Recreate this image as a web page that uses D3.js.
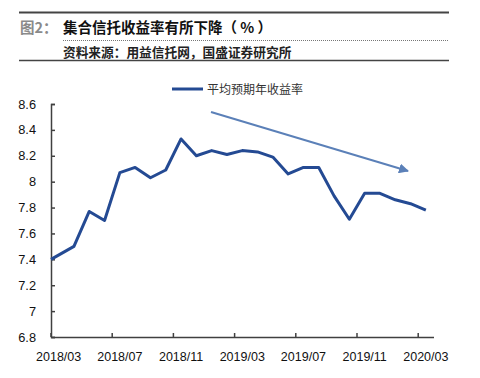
<!DOCTYPE html>
<html><head><meta charset="utf-8">
<script src="https://cdn.jsdelivr.net/npm/d3@7"></script>
<style>body{margin:0;background:#fff}svg{display:block}</style>
</head><body>
<svg id="c" width="480" height="378"></svg>
<script>
const months = ["2018/03","2018/04","2018/05","2018/06","2018/07","2018/08","2018/09","2018/10","2018/11","2018/12",
"2019/01","2019/02","2019/03","2019/04","2019/05","2019/06","2019/07","2019/08","2019/09","2019/10",
"2019/11","2019/12","2020/01","2020/02","2020/03"];
const yieldValues = [7.40,7.50,7.77,7.70,8.07,8.11,8.03,8.09,8.33,8.20,
8.24,8.21,8.24,8.23,8.19,8.06,8.11,8.11,7.89,7.71,
7.91,7.91,7.86,7.83,7.78];
const yTicks = [6.8,7,7.2,7.4,7.6,7.8,8,8.2,8.4,8.6];
const xTickLabels = ["2018/03","2018/07","2018/11","2019/03","2019/07","2019/11","2020/03"];
const seriesName = "平均预期年收益率";
const titlePrefix = "图2：";
const titleText = "集合信托收益率有所下降（ % ）";
const sourceText = "资料来源：用益信托网，国盛证券研究所";

const svg = d3.select("#c");
const L = 51, R = 433.5, T = 104, B = 337;
const x = d3.scaleBand().domain(months).range([L, R]).paddingInner(0).paddingOuter(0);
const y = d3.scaleLinear().domain([6.8, 8.6]).range([B, T]);
const axisColor = "#404040";
const font = "'Liberation Sans', Arial, sans-serif";

// header
svg.append("line").attr("x1",19).attr("x2",449).attr("y1",12.5).attr("y2",12.5).attr("stroke","#444").attr("stroke-width",2);
svg.append("text").attr("x",20).attr("y",33).attr("font-family","'Noto Sans CJK SC', sans-serif").attr("font-size",14.5).attr("font-weight","bold").attr("fill","#8a8a8a").text(titlePrefix);
svg.append("text").attr("x",63).attr("y",33).attr("font-family","'Noto Sans CJK SC', sans-serif").attr("font-size",14.5).attr("font-weight","bold").attr("fill","#111").attr("xml:space","preserve").style("white-space","pre").text(titleText);
svg.append("line").attr("x1",63).attr("x2",449).attr("y1",40.5).attr("y2",40.5).attr("stroke","#777").attr("stroke-width",1).attr("stroke-dasharray","1,1");
svg.append("text").attr("x",63).attr("y",56.5).attr("font-family","'Noto Sans CJK SC', sans-serif").attr("font-size",12.7).attr("font-weight","bold").attr("fill","#222").text(sourceText);
svg.append("line").attr("x1",19).attr("x2",449).attr("y1",60.5).attr("y2",60.5).attr("stroke","#444").attr("stroke-width",1.5);

// y axis
const yAxis = svg.append("g").attr("transform",`translate(${L},0)`)
  .call(d3.axisLeft(y).tickValues(yTicks).tickSize(-4).tickPadding(15).tickFormat(d3.format("~g")));
yAxis.select(".domain").attr("stroke",axisColor).attr("stroke-width",1.5);
yAxis.selectAll(".tick line").attr("stroke",axisColor).attr("stroke-width",1.5);
yAxis.selectAll("text").attr("font-family",font).attr("font-size",12.8).attr("fill","#111");

// x axis
const xAxis = svg.append("g").attr("transform",`translate(0,${B})`)
  .call(d3.axisBottom(x).tickValues(xTickLabels).tickSize(0).tickPadding(15));
xAxis.select(".domain").attr("stroke",axisColor).attr("stroke-width",1.5);
xAxis.selectAll("text").attr("font-family",font).attr("font-size",12.5).attr("fill","#111");
// tick marks at category boundaries every 4 months (inward)
xAxis.selectAll(".tick").append("line")
  .attr("x1",-x.bandwidth()/2).attr("x2",-x.bandwidth()/2).attr("y1",0).attr("y2",-4)
  .attr("stroke",axisColor).attr("stroke-width",1.5);

// series line
const px = (d,i) => i === 0 ? x.range()[0] : x(months[i]) + x.bandwidth()/2;
svg.append("path").datum(yieldValues)
  .attr("d", d3.line().x((d,i)=>px(d,i)).y(d=>y(d)))
  .attr("fill","none").attr("stroke","#244a93").attr("stroke-width",3).attr("stroke-linejoin","round");

// trend arrow
const defs = svg.append("defs");
defs.append("marker").attr("id","ah").attr("viewBox","0 0 10 10").attr("refX",9).attr("refY",5)
  .attr("markerWidth",5).attr("markerHeight",5).attr("orient","auto").attr("markerUnits","strokeWidth")
  .append("path").attr("d","M0,0L10,5L0,10z").attr("fill","#5b80b8");
svg.append("line").attr("x1",211).attr("y1",112).attr("x2",408).attr("y2",171)
  .attr("stroke","#5b80b8").attr("stroke-width",2).attr("marker-end","url(#ah)");

// legend
svg.append("line").attr("x1",172).attr("x2",203).attr("y1",89).attr("y2",89).attr("stroke","#244a93").attr("stroke-width",3);
svg.append("text").attr("x",207).attr("y",93.5).attr("font-family","'Noto Sans CJK SC', sans-serif").attr("font-size",12).attr("fill","#333").text(seriesName);
</script>
</body></html>
